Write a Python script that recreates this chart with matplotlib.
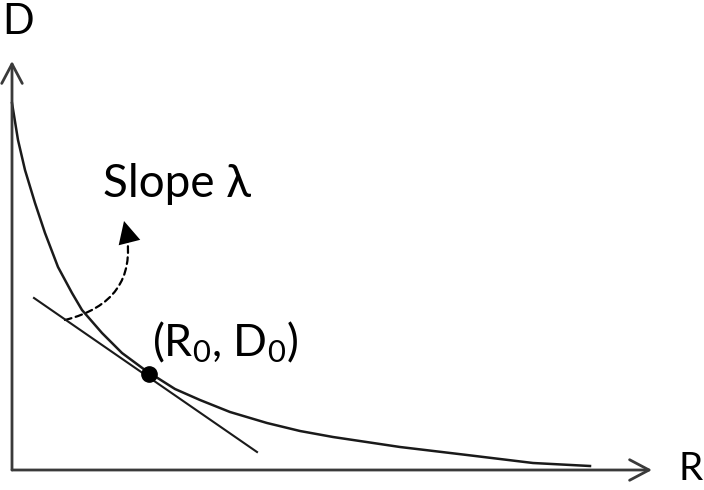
import numpy as np
import matplotlib.pyplot as plt
from matplotlib.patches import FancyArrowPatch

plt.rcParams['mathtext.fontset'] = 'custom'
plt.rcParams['mathtext.rm'] = 'Lato'
plt.rcParams['mathtext.it'] = 'Lato'
FONT = ['Lato', 'DejaVu Sans']

# rate-distortion curve (R, D)
curve_r = [0, 6, 13, 23, 33, 46, 60, 70, 90, 110, 133, 163, 188, 218, 255, 288, 321, 388, 455, 521, 578]
curve_d = [367, 330, 300, 267, 237, 203, 177, 160, 137, 117, 100, 81, 70, 58, 47, 39, 33, 23, 15, 7, 4]

# operating point and tangent line ends
r0, d0 = 137, 96
tangent_r = [22, 245]
tangent_d = [172, 18]

# dashed pointer from tangent to the label
pointer_start = (53, 150)
pointer_end = (112, 249)

x_end, y_end = 640, 409

fig = plt.figure(figsize=(7.04, 4.90), dpi=100)
ax = fig.add_axes([0, 0, 1, 1])
ax.set_xlim(-12, 692)
ax.set_ylim(-20, 470)
ax.axis('off')

ax_col = '#3a3a3a'
ax.annotate('', xy=(x_end, 0), xytext=(0, 0),
            arrowprops=dict(arrowstyle='->,head_length=0.7,head_width=0.37',
                            mutation_scale=20, color=ax_col, lw=2, shrinkA=0, shrinkB=0))
ax.annotate('', xy=(0, y_end), xytext=(0, 0),
            arrowprops=dict(arrowstyle='->,head_length=0.7,head_width=0.37',
                            mutation_scale=20, color=ax_col, lw=2, shrinkA=0, shrinkB=0))

ax.plot(curve_r, curve_d, color='#1a1a1a', lw=1.8, solid_joinstyle='round')
ax.plot(tangent_r, tangent_d, color='#1a1a1a', lw=1.5)
ax.plot([r0], [d0], 'o', color='black', markersize=11)

# dashed curved pointer + solid head
ax.add_patch(FancyArrowPatch(pointer_start, pointer_end, arrowstyle='-',
                             connectionstyle='arc3,rad=0.5', ls=(0, (3, 2)),
                             lw=1.6, color='black', shrinkA=0, shrinkB=9))
ax.add_patch(FancyArrowPatch(pointer_start, pointer_end,
                             arrowstyle='-|>,head_length=0.8,head_width=0.4',
                             connectionstyle='arc3,rad=0.5', mutation_scale=20,
                             lw=0, color='black', shrinkA=0, shrinkB=0))

ax.text(-10, 467, 'D', fontsize=30, family=FONT, ha='left', va='top')
ax.text(666, 1, 'R', fontsize=28, family=FONT, ha='left', va='center')
ax.text(91, 273, 'Slope λ', fontsize=33, family=FONT, ha='left', va='baseline')
ax.text(140, 128, r'(R$_0$, D$_0$)', fontsize=32, family=FONT, ha='left', va='center')

fig.savefig('out.png', dpi=100)
